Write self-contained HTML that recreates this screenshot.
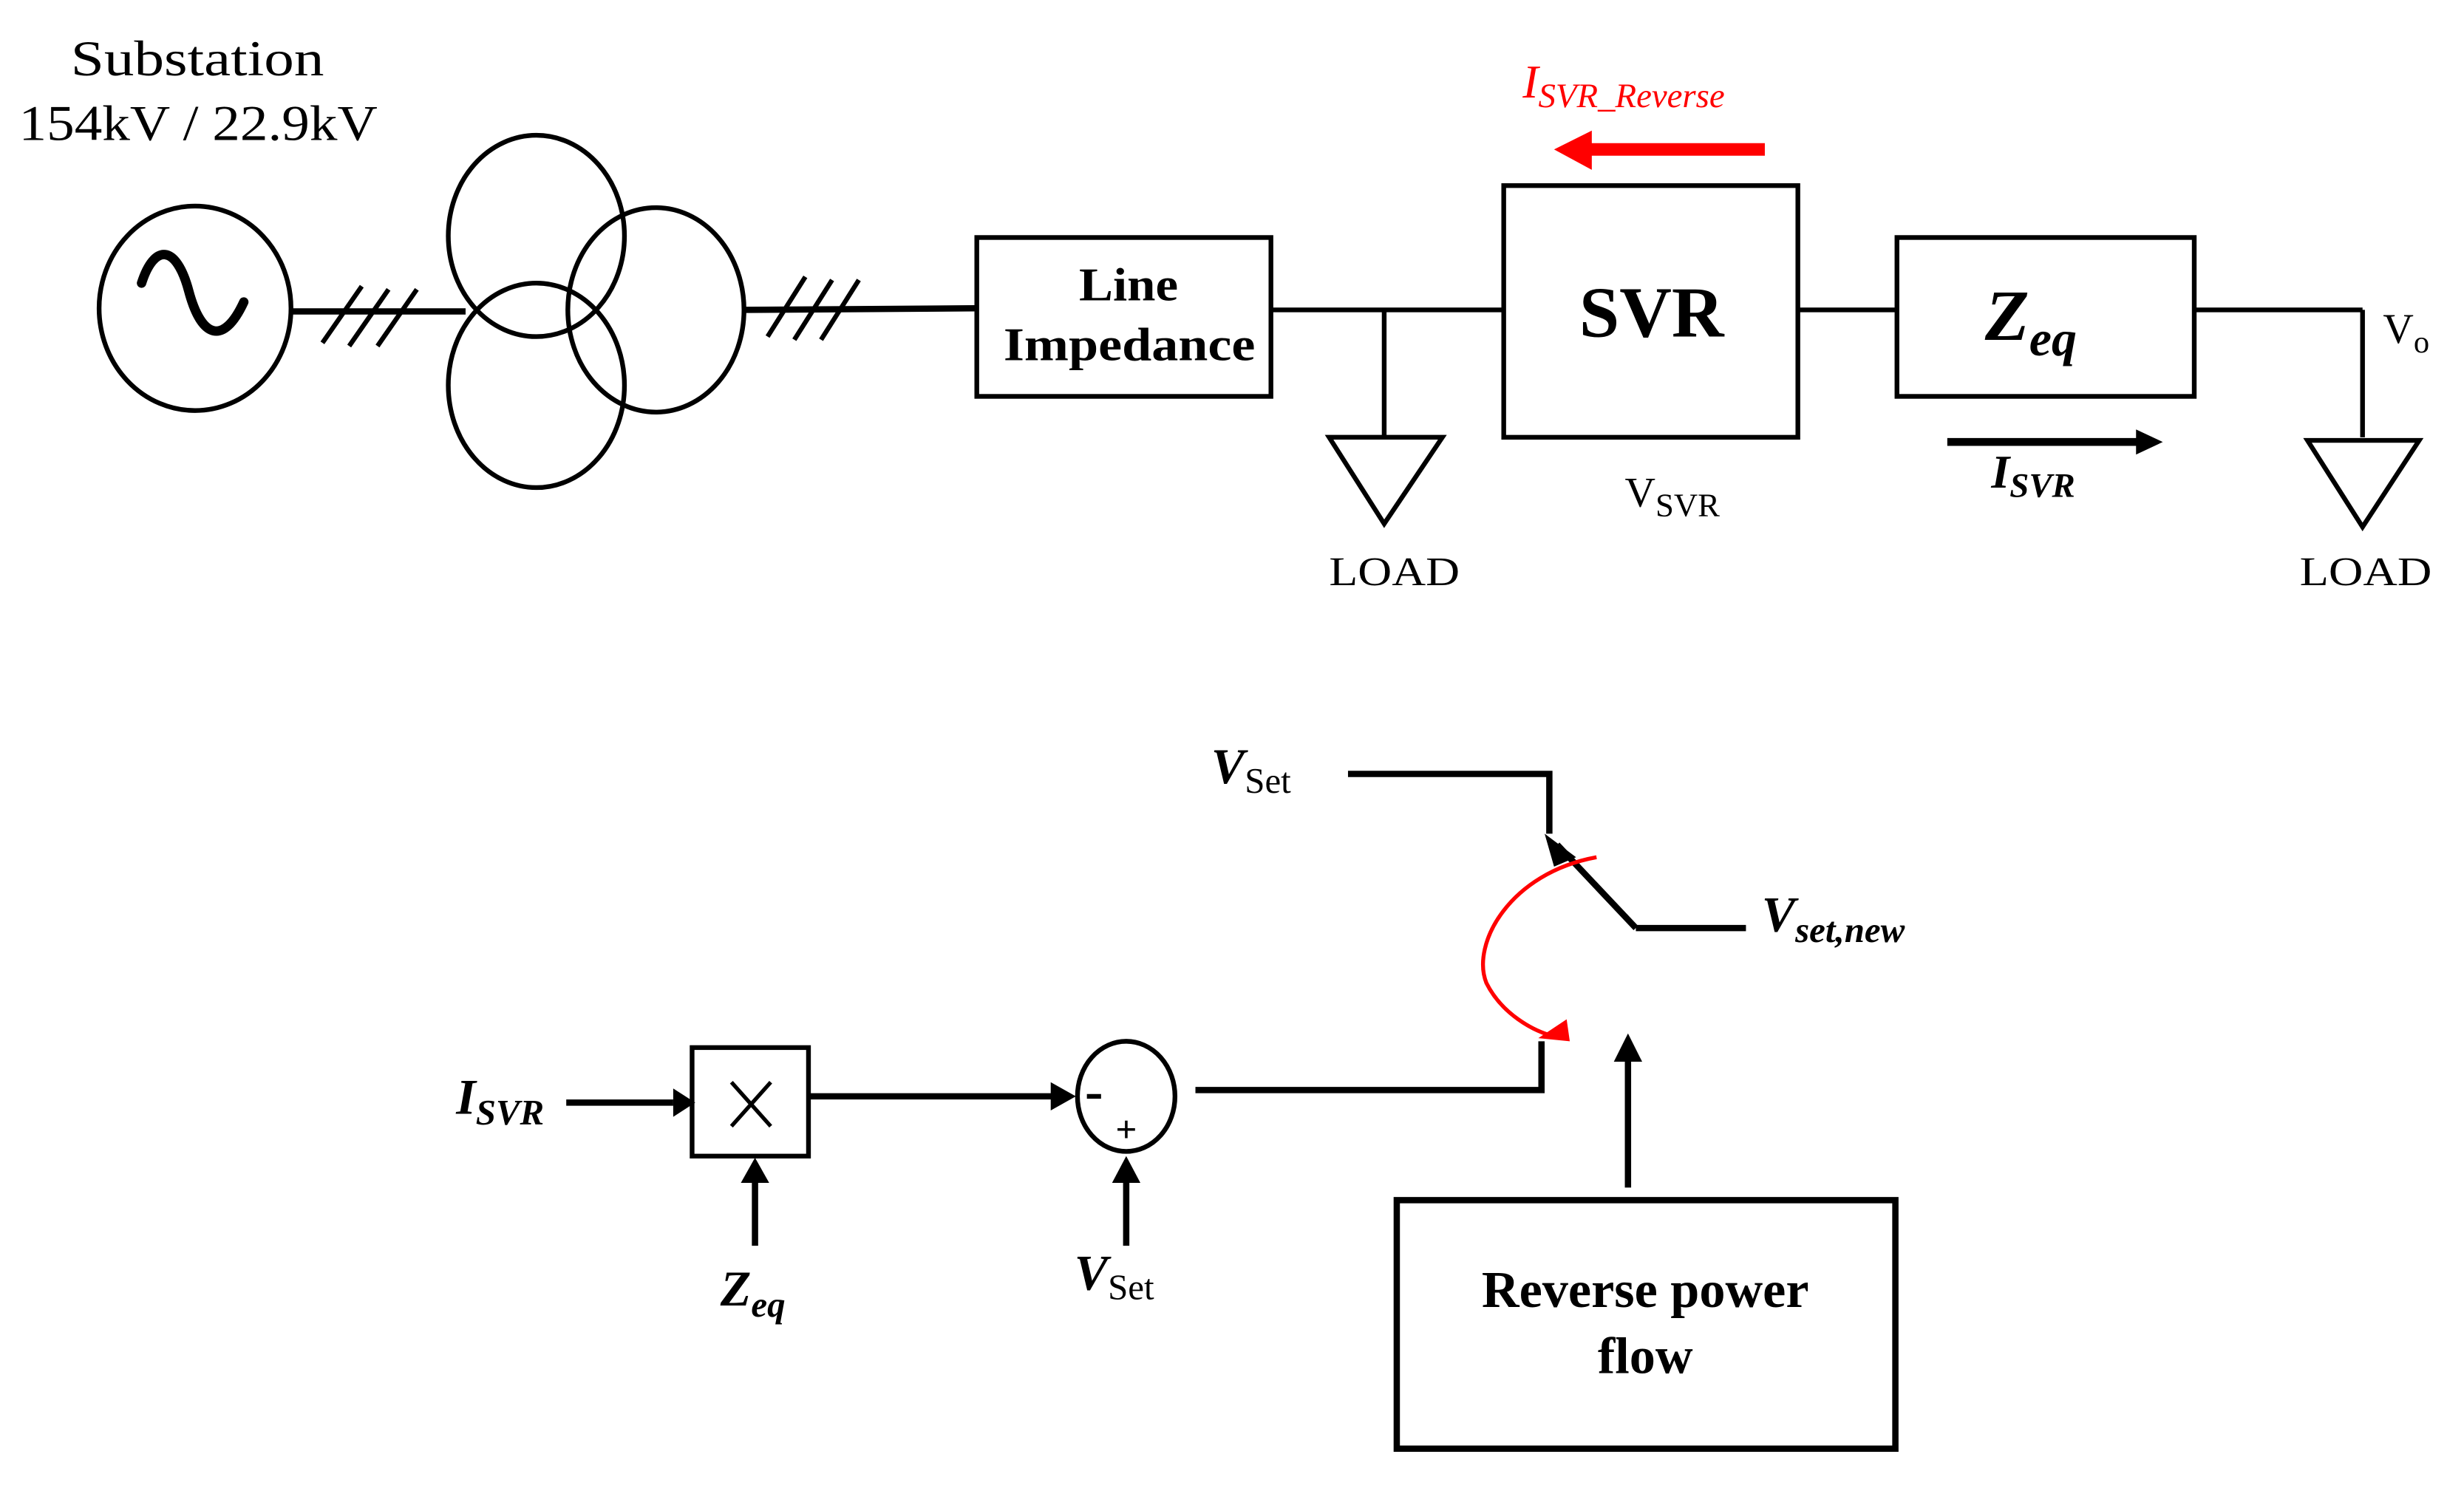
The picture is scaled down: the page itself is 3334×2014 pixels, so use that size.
<!DOCTYPE html>
<html><head><meta charset="utf-8"><style>
html,body{margin:0;padding:0;background:#fff;}
svg{display:block;}
text{font-family:"Liberation Serif",serif;}
.b{font-weight:bold;}
.i{font-style:italic;}
</style></head><body>
<svg width="3334" height="2014" viewBox="0 0 1566.5 946" preserveAspectRatio="none" xmlns="http://www.w3.org/2000/svg">
<g fill="none" stroke="#000">
<ellipse cx="124" cy="196" rx="61" ry="65" stroke-width="3"/>
<path d="M90,180 C98,155 112,155 120,185 C128,215 142,220 155,192" stroke-width="6" stroke-linecap="round"/>
<line x1="185" y1="198" x2="296" y2="198" stroke-width="4"/>
<line x1="205" y1="218" x2="230" y2="182" stroke-width="3"/>
<line x1="222" y1="220" x2="247" y2="184" stroke-width="3"/>
<line x1="240" y1="220" x2="265" y2="184" stroke-width="3"/>
<ellipse cx="341" cy="150" rx="56" ry="64" stroke-width="3"/>
<ellipse cx="341" cy="245" rx="56" ry="65" stroke-width="3"/>
<ellipse cx="417" cy="197" rx="56" ry="65" stroke-width="3"/>
<line x1="474" y1="197" x2="620" y2="196" stroke-width="4"/>
<line x1="488" y1="214" x2="512" y2="176" stroke-width="3"/>
<line x1="505" y1="216" x2="529" y2="178" stroke-width="3"/>
<line x1="522" y1="216" x2="546" y2="178" stroke-width="3"/>
<rect x="621" y="151" width="187" height="101" stroke-width="3"/>
<line x1="808" y1="197" x2="956" y2="197" stroke-width="3"/>
<line x1="880" y1="197" x2="880" y2="278" stroke-width="3"/>
<path d="M845,278 L917,278 L880,333 Z" stroke-width="3"/>
<rect x="956" y="118" width="187" height="160" stroke-width="3"/>
<line x1="1143" y1="197" x2="1206" y2="197" stroke-width="3"/>
<rect x="1206" y="151" width="189" height="101" stroke-width="3"/>
<line x1="1395" y1="197" x2="1502" y2="197" stroke-width="3"/>
<line x1="1502" y1="197" x2="1502" y2="278" stroke-width="3"/>
<path d="M1467,280 L1538,280 L1502,335 Z" stroke-width="3"/>
<line x1="1238" y1="281" x2="1360" y2="281" stroke-width="5"/>
</g>
<path d="M1358,273 L1375,281 L1358,289 Z" fill="#000"/>
<line x1="1122" y1="95" x2="1005" y2="95" stroke="#f00" stroke-width="8"/>
<path d="M1012,83 L988,95 L1012,108 Z" fill="#f00"/>
<text x="45" y="48" font-size="32" textLength="161" lengthAdjust="spacingAndGlyphs">Substation</text>
<text x="12" y="89" font-size="32" textLength="228" lengthAdjust="spacingAndGlyphs">154kV / 22.9kV</text>
<text x="686" y="191" font-size="30" class="b" textLength="63" lengthAdjust="spacingAndGlyphs">Line</text>
<text x="638" y="229" font-size="30" class="b" textLength="160" lengthAdjust="spacingAndGlyphs">Impedance</text>
<text x="1050" y="214" font-size="46" class="b" text-anchor="middle">SVR</text>
<text x="1262" y="216" font-size="46" class="b i">Z<tspan font-size="32" dy="10">eq</tspan></text>
<text x="1033" y="322" font-size="27">V<tspan font-size="21" dy="6">SVR</tspan></text>
<text x="1266" y="310" font-size="30" class="b i">I<tspan font-size="22" dy="6">SVR</tspan></text>
<text x="968" y="62" font-size="30" class="i" fill="#f00">I<tspan font-size="22" dy="6">SVR_Reverse</tspan></text>
<text x="1515" y="218" font-size="27">V<tspan font-size="20" dy="6">o</tspan></text>
<text x="845" y="372" font-size="26" textLength="83" lengthAdjust="spacingAndGlyphs">LOAD</text>
<text x="1462" y="372" font-size="26" textLength="84" lengthAdjust="spacingAndGlyphs">LOAD</text>
<g fill="none" stroke="#000">
<polyline points="857,492 985,492 985,530" stroke-width="4"/>
<line x1="1040" y1="590" x2="990" y2="537" stroke-width="4"/>
<line x1="1040" y1="590" x2="1110" y2="590" stroke-width="4"/>
<line x1="360" y1="701" x2="428" y2="701" stroke-width="4"/>
<rect x="440" y="666" width="74" height="69" stroke-width="3"/>
<line x1="465" y1="688" x2="490" y2="716" stroke-width="2.5"/>
<line x1="490" y1="688" x2="465" y2="716" stroke-width="2.5"/>
<line x1="514" y1="697" x2="670" y2="697" stroke-width="4"/>
<ellipse cx="716" cy="697" rx="31" ry="35" stroke-width="3"/>
<line x1="480" y1="792" x2="480" y2="752" stroke-width="4"/>
<line x1="716" y1="792" x2="716" y2="752" stroke-width="4"/>
<polyline points="760,693 980,693 980,662" stroke-width="4"/>
<line x1="1035" y1="755" x2="1035" y2="675" stroke-width="4"/>
<rect x="888" y="763" width="317" height="158" stroke-width="4"/>
<path d="M1015,545 C960,555 935,600 945,625 C955,645 975,655 985,658" stroke="#f00" stroke-width="2.5"/>
</g>
<path d="M982,530 L1002,545 L988,551 Z" fill="#000"/>
<path d="M428,692 L442,701 L428,710 Z" fill="#000"/>
<path d="M668,688 L684,697 L668,706 Z" fill="#000"/>
<path d="M471,752 L480,736 L489,752 Z" fill="#000"/>
<path d="M707,752 L716,735 L725,752 Z" fill="#000"/>
<path d="M1026,675 L1035,657 L1044,675 Z" fill="#000"/>
<path d="M978,660 L996,648 L998,662 Z" fill="#f00"/>
<line x1="691" y1="697" x2="700" y2="697" stroke="#000" stroke-width="3"/>
<text x="716" y="726" font-size="24" class="b" text-anchor="middle">+</text>
<text x="770" y="498" font-size="32" class="b i">V<tspan font-size="23" font-weight="normal" font-style="normal" dy="6">Set</tspan></text>
<text x="1120" y="592" font-size="32" class="b i">V<tspan font-size="23" dy="7">set,new</tspan></text>
<text x="290" y="708" font-size="32" class="b i">I<tspan font-size="23" dy="7">SVR</tspan></text>
<text x="458" y="830" font-size="32" class="b i">Z<tspan font-size="23" dy="7">eq</tspan></text>
<text x="683" y="820" font-size="32" class="b i">V<tspan font-size="23" font-weight="normal" font-style="normal" dy="6">Set</tspan></text>
<text x="1046" y="831" font-size="33" class="b" text-anchor="middle">Reverse power</text>
<text x="1046" y="873" font-size="33" class="b" text-anchor="middle">flow</text>
</svg>
</body></html>
